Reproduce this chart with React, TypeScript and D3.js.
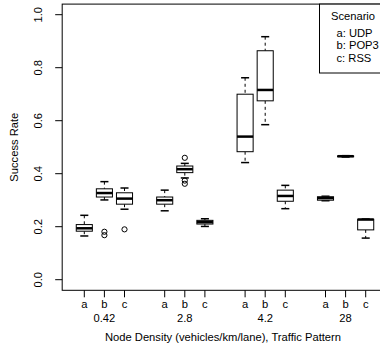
import React from "react";
import * as d3 from "d3";

// values
const densities = ["0.42", "2.8", "4.2", "28"];
const patterns = ["a", "b", "c"];
const legendItems = ["a: UDP", "b: POP3", "c: RSS"];
const yTicks = [0, 0.2, 0.4, 0.6, 0.8, 1.0];

// one entry per box, order: density x pattern
const whiskerLow = [0.165, 0.301, 0.266, 0.26, 0.384, 0.201, 0.442, 0.585, 0.268, 0.298, 0.463, 0.157];
const q1 = [0.183, 0.312, 0.285, 0.285, 0.404, 0.21, 0.483, 0.675, 0.296, 0.3, 0.464, 0.188];
const median = [0.194, 0.327, 0.306, 0.3, 0.417, 0.217, 0.54, 0.716, 0.316, 0.308, 0.466, 0.227];
const q3 = [0.208, 0.343, 0.328, 0.312, 0.429, 0.224, 0.7, 0.864, 0.338, 0.313, 0.467, 0.228];
const whiskerHigh = [0.243, 0.37, 0.346, 0.338, 0.439, 0.23, 0.762, 0.917, 0.356, 0.315, 0.468, 0.229];
const outliers = [[], [0.181, 0.168], [0.19], [], [0.46, 0.374, 0.362], [], [], [], [], [], [], []];

const W = 380;
const H = 352;

export default function App() {
  const y = d3.scaleLinear().domain([0, 1]).range([279.7, 14.7]);
  const x = d3.scaleLinear().domain([1, 15]).range([84.3, 365.7]);
  const pos = (i: number) => Math.floor(i / 3) * 4 + (i % 3) + 1;
  const unit = x(2) - x(1);
  const bw = unit * 0.8;
  const sw = unit * 0.4;
  const font = "Liberation Sans, Arial, Helvetica, sans-serif";
  const fs = 11.2;

  const left = x(-0.1);
  const right = x(16.1);
  const top = y(1.04);
  const bottom = y(-0.04);

  return (
    <svg width={W} height={H} style={{ position: "absolute", left: 0, top: 0 }} fontFamily={font}>
      <rect x={0} y={0} width={W} height={H} fill="white" />
      {median.map((m, i) => {
        const cx = x(pos(i));
        return (
          <g key={i}>
            <line x1={cx} x2={cx} y1={y(whiskerHigh[i])} y2={y(q3[i])} stroke="black" strokeDasharray="3,3" />
            <line x1={cx} x2={cx} y1={y(q1[i])} y2={y(whiskerLow[i])} stroke="black" strokeDasharray="3,3" />
            <line x1={cx - sw / 2} x2={cx + sw / 2} y1={y(whiskerHigh[i])} y2={y(whiskerHigh[i])} stroke="black" strokeWidth={1.5} />
            <line x1={cx - sw / 2} x2={cx + sw / 2} y1={y(whiskerLow[i])} y2={y(whiskerLow[i])} stroke="black" strokeWidth={1.5} />
            <rect x={cx - bw / 2} y={y(q3[i])} width={bw} height={Math.max(y(q1[i]) - y(q3[i]), 0.5)} fill="white" stroke="black" />
            <line x1={cx - bw / 2} x2={cx + bw / 2} y1={y(m)} y2={y(m)} stroke="black" strokeWidth={2.5} />
            {outliers[i].map((o, j) => (
              <circle key={j} cx={cx} cy={y(o)} r={2.6} fill="none" stroke="black" />
            ))}
          </g>
        );
      })}
      {/* frame */}
      <rect x={left} y={top} width={right - left} height={bottom - top} fill="none" stroke="black" />
      {/* y axis */}
      {yTicks.map((t) => (
        <g key={t}>
          <line x1={left - 7} x2={left} y1={y(t)} y2={y(t)} stroke="black" />
          <text
            transform={`translate(${left - 20},${y(t)}) rotate(-90)`}
            textAnchor="middle"
            fontSize={fs}
          >
            {t.toFixed(1)}
          </text>
        </g>
      ))}
      <text transform={`translate(18,${(top + bottom) / 2}) rotate(-90)`} textAnchor="middle" fontSize={fs}>
        Success Rate
      </text>
      {/* x axis */}
      {median.map((_, i) => (
        <g key={i}>
          <line x1={x(pos(i))} x2={x(pos(i))} y1={bottom} y2={bottom + 7} stroke="black" />
          <text x={x(pos(i))} y={307.5} textAnchor="middle" fontSize={fs}>
            {patterns[i % 3]}
          </text>
        </g>
      ))}
      {densities.map((d, k) => (
        <text key={d} x={x(k * 4 + 2)} y={322} textAnchor="middle" fontSize={fs}>
          {d}
        </text>
      ))}
      <text x={(left + right) / 2 - 2} y={341} textAnchor="middle" fontSize={fs}>
        Node Density (vehicles/km/lane), Traffic Pattern
      </text>
      {/* legend */}
      <rect x={319.5} y={top} width={90} height={73 - top} fill="white" stroke="black" />
      <text x={353} y={20} textAnchor="middle" fontSize={fs}>
        Scenario
      </text>
      {legendItems.map((l, i) => (
        <text key={l} x={336.5} y={37 + i * 12.3} fontSize={fs}>
          {l}
        </text>
      ))}
    </svg>
  );
}
